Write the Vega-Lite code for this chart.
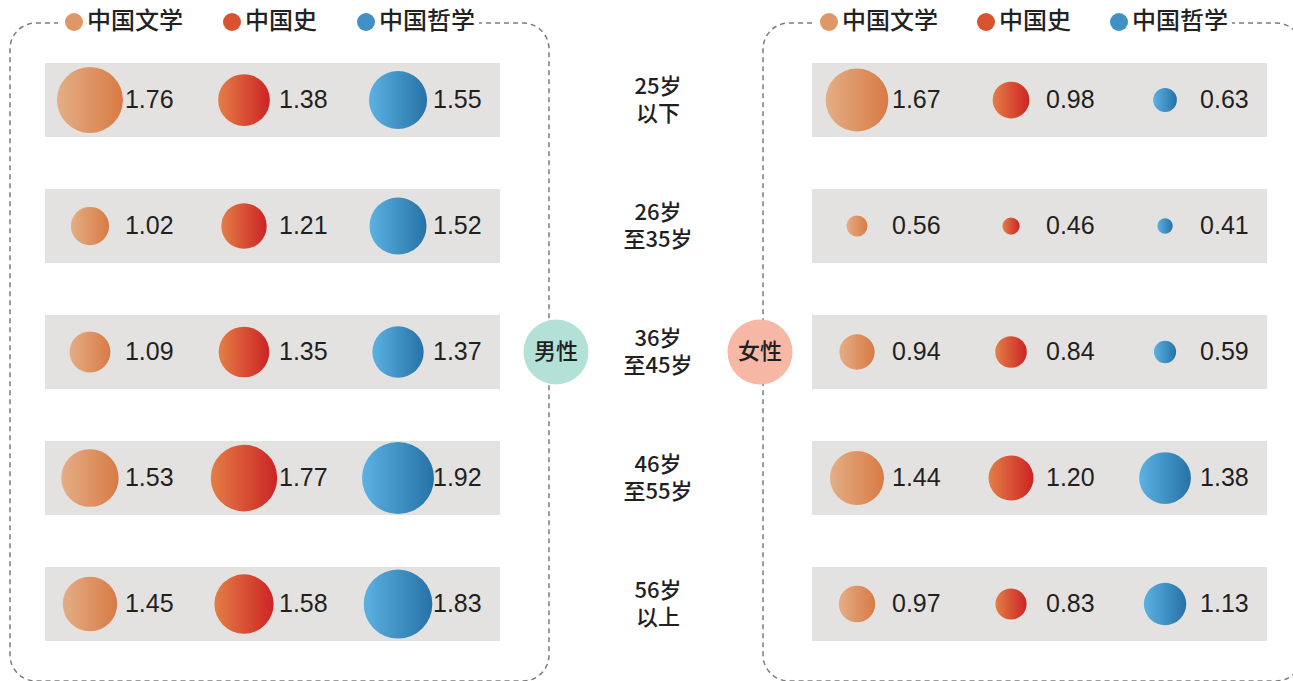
{
  "$schema": "https://vega.github.io/schema/vega-lite/v6.json",
  "width": 1293,
  "height": 681,
  "autosize": {"type": "none"},
  "padding": 0,
  "background": "white",
  "config": {"view": {"stroke": null}},
  "datasets": {
    "main": [
      {"gender": "男性", "age": "25岁\n以下", "subject": "中国文学", "value": 1.76},
      {"gender": "男性", "age": "25岁\n以下", "subject": "中国史", "value": 1.38},
      {"gender": "男性", "age": "25岁\n以下", "subject": "中国哲学", "value": 1.55},
      {"gender": "男性", "age": "26岁\n至35岁", "subject": "中国文学", "value": 1.02},
      {"gender": "男性", "age": "26岁\n至35岁", "subject": "中国史", "value": 1.21},
      {"gender": "男性", "age": "26岁\n至35岁", "subject": "中国哲学", "value": 1.52},
      {"gender": "男性", "age": "36岁\n至45岁", "subject": "中国文学", "value": 1.09},
      {"gender": "男性", "age": "36岁\n至45岁", "subject": "中国史", "value": 1.35},
      {"gender": "男性", "age": "36岁\n至45岁", "subject": "中国哲学", "value": 1.37},
      {"gender": "男性", "age": "46岁\n至55岁", "subject": "中国文学", "value": 1.53},
      {"gender": "男性", "age": "46岁\n至55岁", "subject": "中国史", "value": 1.77},
      {"gender": "男性", "age": "46岁\n至55岁", "subject": "中国哲学", "value": 1.92},
      {"gender": "男性", "age": "56岁\n以上", "subject": "中国文学", "value": 1.45},
      {"gender": "男性", "age": "56岁\n以上", "subject": "中国史", "value": 1.58},
      {"gender": "男性", "age": "56岁\n以上", "subject": "中国哲学", "value": 1.83},
      {"gender": "女性", "age": "25岁\n以下", "subject": "中国文学", "value": 1.67},
      {"gender": "女性", "age": "25岁\n以下", "subject": "中国史", "value": 0.98},
      {"gender": "女性", "age": "25岁\n以下", "subject": "中国哲学", "value": 0.63},
      {"gender": "女性", "age": "26岁\n至35岁", "subject": "中国文学", "value": 0.56},
      {"gender": "女性", "age": "26岁\n至35岁", "subject": "中国史", "value": 0.46},
      {"gender": "女性", "age": "26岁\n至35岁", "subject": "中国哲学", "value": 0.41},
      {"gender": "女性", "age": "36岁\n至45岁", "subject": "中国文学", "value": 0.94},
      {"gender": "女性", "age": "36岁\n至45岁", "subject": "中国史", "value": 0.84},
      {"gender": "女性", "age": "36岁\n至45岁", "subject": "中国哲学", "value": 0.59},
      {"gender": "女性", "age": "46岁\n至55岁", "subject": "中国文学", "value": 1.44},
      {"gender": "女性", "age": "46岁\n至55岁", "subject": "中国史", "value": 1.20},
      {"gender": "女性", "age": "46岁\n至55岁", "subject": "中国哲学", "value": 1.38},
      {"gender": "女性", "age": "56岁\n以上", "subject": "中国文学", "value": 0.97},
      {"gender": "女性", "age": "56岁\n以上", "subject": "中国史", "value": 0.83},
      {"gender": "女性", "age": "56岁\n以上", "subject": "中国哲学", "value": 1.13}
    ],
    "panels": [{"gender": "男性"}, {"gender": "女性"}]
  },
  "data": {"name": "main"},
  "resolve": {"scale": {"x": "independent", "xOffset": "independent", "color": "independent"}},
  "layer": [
    {
      "data": {"name": "panels"},
      "transform": [{"filter": "datum.gender === '男性'"}],
      "mark": {"type": "rect", "fill": null, "stroke": "#7c7c7c", "strokeWidth": 1.5, "strokeDash": [5, 4], "cornerRadius": 26, "width": 539, "xOffset": 7, "yOffset": 23, "y2Offset": -4},
      "encoding": {
        "x": {"field": "gender", "type": "nominal", "axis": null, "scale": {"domain": ["男性", "女性"], "paddingInner": 0.40678, "paddingOuter": 0.04625, "align": 0.634}}
      }
    },
    {
      "data": {"name": "panels"},
      "transform": [{"filter": "datum.gender === '女性'"}],
      "mark": {"type": "rect", "fill": null, "stroke": "#7c7c7c", "strokeWidth": 1.5, "strokeDash": [5, 4], "cornerRadius": 26, "width": 539, "xOffset": -7, "yOffset": 23, "y2Offset": -2},
      "encoding": {
        "x": {"field": "gender", "type": "nominal", "axis": null, "scale": {"domain": ["男性", "女性"], "paddingInner": 0.40678, "paddingOuter": 0.04625, "align": 0.634}}
      }
    },
    {
      "transform": [{"filter": "datum.subject === '中国文学'"}],
      "mark": {"type": "rect", "fill": "#e3e2e0"},
      "encoding": {
        "x": {"field": "gender", "type": "nominal", "axis": null, "scale": {"domain": ["男性", "女性"], "paddingInner": 0.40678, "paddingOuter": 0.04625, "align": 0.634}},
        "y": {"field": "age", "type": "nominal", "axis": null, "scale": {"domain": ["25岁\n以下", "26岁\n至35岁", "36岁\n至45岁", "46岁\n至55岁", "56岁\n以上"], "paddingInner": 0.4127, "paddingOuter": 0.4087, "align": 0.6117}}
      }
    },
    {
      "transform": [{"filter": "datum.gender === '男性'"}],
      "mark": {"type": "point", "shape": "circle", "filled": true, "opacity": 0, "strokeWidth": 0},
      "encoding": {
        "x": {"field": "gender", "type": "nominal", "axis": null, "scale": {"domain": ["男性", "女性"], "paddingInner": 0.40678, "paddingOuter": 0.04625, "align": 0.634}},
        "y": {"field": "age", "type": "nominal", "axis": null, "scale": {"domain": ["25岁\n以下", "26岁\n至35岁", "36岁\n至45岁", "46岁\n至55岁", "56岁\n以上"], "paddingInner": 0.4127, "paddingOuter": 0.4087, "align": 0.6117}},
        "color": {
          "field": "subject", "type": "nominal",
          "scale": {"domain": ["中国文学", "中国史", "中国哲学"], "range": ["#df9865", "#d8532f", "#3f91c6"]},
          "legend": {"orient": "none", "legendX": 58, "legendY": 6, "direction": "horizontal", "title": null, "symbolType": "circle", "symbolSize": 324, "symbolStrokeWidth": 0, "symbolOpacity": 1, "labelFontSize": 24, "labelFont": "Noto Sans CJK SC", "labelFontWeight": 500, "labelColor": "#222222", "labelOffset": 1, "columnPadding": 37, "labelLimit": 0, "fillColor": "white", "padding": 4, "zindex": 2,
            "encode": {"symbols": {"update": {"opacity": {"value": 1}, "fill": {"signal": "datum.value === '中国文学' ? {gradient: 'linear', x1: 0, y1: 0, x2: 1, y2: 0, stops: [{offset: 0, color: '#e4ae86'}, {offset: 1, color: '#d87a44'}]} : datum.value === '中国史' ? {gradient: 'linear', x1: 0, y1: 0, x2: 1, y2: 0, stops: [{offset: 0, color: '#e47e46'}, {offset: 1, color: '#cc2424'}]} : {gradient: 'linear', x1: 0, y1: 0, x2: 1, y2: 0, stops: [{offset: 0, color: '#5bb2e2'}, {offset: 1, color: '#2672a6'}]}"}}}}
          }
        }
      }
    },
    {
      "transform": [{"filter": "datum.gender === '女性'"}],
      "mark": {"type": "point", "shape": "circle", "filled": true, "opacity": 0, "strokeWidth": 0},
      "encoding": {
        "x": {"field": "gender", "type": "nominal", "axis": null, "scale": {"domain": ["男性", "女性"], "paddingInner": 0.40678, "paddingOuter": 0.04625, "align": 0.634}},
        "y": {"field": "age", "type": "nominal", "axis": null, "scale": {"domain": ["25岁\n以下", "26岁\n至35岁", "36岁\n至45岁", "46岁\n至55岁", "56岁\n以上"], "paddingInner": 0.4127, "paddingOuter": 0.4087, "align": 0.6117}},
        "color": {
          "field": "subject", "type": "nominal",
          "scale": {"domain": ["中国文学", "中国史", "中国哲学"], "range": ["#df9865", "#d8532f", "#3f91c6"]},
          "legend": {"orient": "none", "legendX": 813, "legendY": 6, "direction": "horizontal", "title": null, "symbolType": "circle", "symbolSize": 324, "symbolStrokeWidth": 0, "symbolOpacity": 1, "labelFontSize": 24, "labelFont": "Noto Sans CJK SC", "labelFontWeight": 500, "labelColor": "#222222", "labelOffset": 1, "columnPadding": 36, "labelLimit": 0, "fillColor": "white", "padding": 4, "zindex": 2,
            "encode": {"symbols": {"update": {"opacity": {"value": 1}, "fill": {"signal": "datum.value === '中国文学' ? {gradient: 'linear', x1: 0, y1: 0, x2: 1, y2: 0, stops: [{offset: 0, color: '#e4ae86'}, {offset: 1, color: '#d87a44'}]} : datum.value === '中国史' ? {gradient: 'linear', x1: 0, y1: 0, x2: 1, y2: 0, stops: [{offset: 0, color: '#e47e46'}, {offset: 1, color: '#cc2424'}]} : {gradient: 'linear', x1: 0, y1: 0, x2: 1, y2: 0, stops: [{offset: 0, color: '#5bb2e2'}, {offset: 1, color: '#2672a6'}]}"}}}}
          }
        }
      }
    },
    {
      "transform": [{"filter": "datum.subject === '中国文学'"}],
      "mark": {"type": "point", "shape": "circle", "filled": true, "opacity": 1, "strokeWidth": 0, "fill": {"gradient": "linear", "x1": 0, "y1": 0, "x2": 1, "y2": 0, "stops": [{"offset": 0, "color": "#e4ae86"}, {"offset": 1, "color": "#d87a44"}]}},
      "encoding": {
        "x": {"field": "gender", "type": "nominal", "axis": null, "scale": {"domain": ["男性", "女性"], "paddingInner": 0.40678, "paddingOuter": 0.04625, "align": 0.634}},
        "xOffset": {"field": "subject", "type": "nominal", "scale": {"type": "point", "domain": ["中国文学", "中国史", "中国哲学"], "padding": 0.477, "align": 0.306}},
        "y": {"field": "age", "type": "nominal", "axis": null, "scale": {"domain": ["25岁\n以下", "26岁\n至35岁", "36岁\n至45岁", "46岁\n至55岁", "56岁\n以上"], "paddingInner": 0.4127, "paddingOuter": 0.4087, "align": 0.6117}},
        "size": {"field": "value", "type": "quantitative", "legend": null, "scale": {"type": "pow", "exponent": 2, "domain": [0, 2], "range": [0, 5625]}}
      }
    },
    {
      "transform": [{"filter": "datum.subject === '中国史'"}],
      "mark": {"type": "point", "shape": "circle", "filled": true, "opacity": 1, "strokeWidth": 0, "fill": {"gradient": "linear", "x1": 0, "y1": 0, "x2": 1, "y2": 0, "stops": [{"offset": 0, "color": "#e47e46"}, {"offset": 1, "color": "#cc2424"}]}},
      "encoding": {
        "x": {"field": "gender", "type": "nominal", "axis": null, "scale": {"domain": ["男性", "女性"], "paddingInner": 0.40678, "paddingOuter": 0.04625, "align": 0.634}},
        "xOffset": {"field": "subject", "type": "nominal", "scale": {"type": "point", "domain": ["中国文学", "中国史", "中国哲学"], "padding": 0.477, "align": 0.306}},
        "y": {"field": "age", "type": "nominal", "axis": null, "scale": {"domain": ["25岁\n以下", "26岁\n至35岁", "36岁\n至45岁", "46岁\n至55岁", "56岁\n以上"], "paddingInner": 0.4127, "paddingOuter": 0.4087, "align": 0.6117}},
        "size": {"field": "value", "type": "quantitative", "legend": null, "scale": {"type": "pow", "exponent": 2, "domain": [0, 2], "range": [0, 5625]}}
      }
    },
    {
      "transform": [{"filter": "datum.subject === '中国哲学'"}],
      "mark": {"type": "point", "shape": "circle", "filled": true, "opacity": 1, "strokeWidth": 0, "fill": {"gradient": "linear", "x1": 0, "y1": 0, "x2": 1, "y2": 0, "stops": [{"offset": 0, "color": "#5bb2e2"}, {"offset": 1, "color": "#2672a6"}]}},
      "encoding": {
        "x": {"field": "gender", "type": "nominal", "axis": null, "scale": {"domain": ["男性", "女性"], "paddingInner": 0.40678, "paddingOuter": 0.04625, "align": 0.634}},
        "xOffset": {"field": "subject", "type": "nominal", "scale": {"type": "point", "domain": ["中国文学", "中国史", "中国哲学"], "padding": 0.477, "align": 0.306}},
        "y": {"field": "age", "type": "nominal", "axis": null, "scale": {"domain": ["25岁\n以下", "26岁\n至35岁", "36岁\n至45岁", "46岁\n至55岁", "56岁\n以上"], "paddingInner": 0.4127, "paddingOuter": 0.4087, "align": 0.6117}},
        "size": {"field": "value", "type": "quantitative", "legend": null, "scale": {"type": "pow", "exponent": 2, "domain": [0, 2], "range": [0, 5625]}}
      }
    },
    {
      "mark": {"type": "text", "align": "left", "baseline": "middle", "dx": 35, "fontSize": 25, "font": "Liberation Sans", "color": "#231f20"},
      "encoding": {
        "x": {"field": "gender", "type": "nominal", "axis": null, "scale": {"domain": ["男性", "女性"], "paddingInner": 0.40678, "paddingOuter": 0.04625, "align": 0.634}},
        "xOffset": {"field": "subject", "type": "nominal", "scale": {"type": "point", "domain": ["中国文学", "中国史", "中国哲学"], "padding": 0.477, "align": 0.306}},
        "y": {"field": "age", "type": "nominal", "axis": null, "scale": {"domain": ["25岁\n以下", "26岁\n至35岁", "36岁\n至45岁", "46岁\n至55岁", "56岁\n以上"], "paddingInner": 0.4127, "paddingOuter": 0.4087, "align": 0.6117}},
        "text": {"field": "value", "type": "quantitative", "format": ".2f"}
      }
    },
    {
      "layer": [
        {
          "data": {"name": "panels"},
          "mark": {"type": "point", "shape": "circle", "filled": true, "opacity": 1, "strokeWidth": 0, "size": 4225},
          "encoding": {
            "x": {"field": "gender", "type": "nominal", "axis": null, "scale": {"type": "point", "domain": ["男性", "年龄", "女性"], "padding": 0, "range": [556, 760]}},
            "y": {"datum": "36岁\n至45岁", "type": "nominal", "axis": null, "scale": {"domain": ["25岁\n以下", "26岁\n至35岁", "36岁\n至45岁", "46岁\n至55岁", "56岁\n以上"], "paddingInner": 0.4127, "paddingOuter": 0.4087, "align": 0.6117}},
            "fill": {"condition": {"test": "datum.gender === '男性'", "value": "#b4e1d7"}, "value": "#f6b7a5"}
          }
        },
        {
          "data": {"name": "panels"},
          "mark": {"type": "text", "align": "center", "baseline": "middle", "fontSize": 22, "font": "Noto Sans CJK SC", "fontWeight": 500, "color": "#231f20"},
          "encoding": {
            "x": {"field": "gender", "type": "nominal", "axis": null, "scale": {"type": "point", "domain": ["男性", "年龄", "女性"], "padding": 0, "range": [556, 760]}},
            "y": {"datum": "36岁\n至45岁", "type": "nominal", "axis": null, "scale": {"domain": ["25岁\n以下", "26岁\n至35岁", "36岁\n至45岁", "46岁\n至55岁", "56岁\n以上"], "paddingInner": 0.4127, "paddingOuter": 0.4087, "align": 0.6117}},
            "text": {"field": "gender"}
          }
        },
        {
          "transform": [{"filter": "datum.gender === '男性' && datum.subject === '中国文学'"}],
          "mark": {"type": "text", "align": "center", "baseline": "middle", "lineBreak": "\n", "lineHeight": 27, "dy": -13, "fontSize": 22, "font": "Noto Sans CJK SC", "fontWeight": 500, "color": "#231f20"},
          "encoding": {
            "x": {"datum": "年龄", "type": "nominal", "axis": null, "scale": {"type": "point", "domain": ["男性", "年龄", "女性"], "padding": 0, "range": [556, 760]}},
            "y": {"field": "age", "type": "nominal", "axis": null, "scale": {"domain": ["25岁\n以下", "26岁\n至35岁", "36岁\n至45岁", "46岁\n至55岁", "56岁\n以上"], "paddingInner": 0.4127, "paddingOuter": 0.4087, "align": 0.6117}},
            "text": {"field": "age"}
          }
        }
      ]
    }
  ]
}
